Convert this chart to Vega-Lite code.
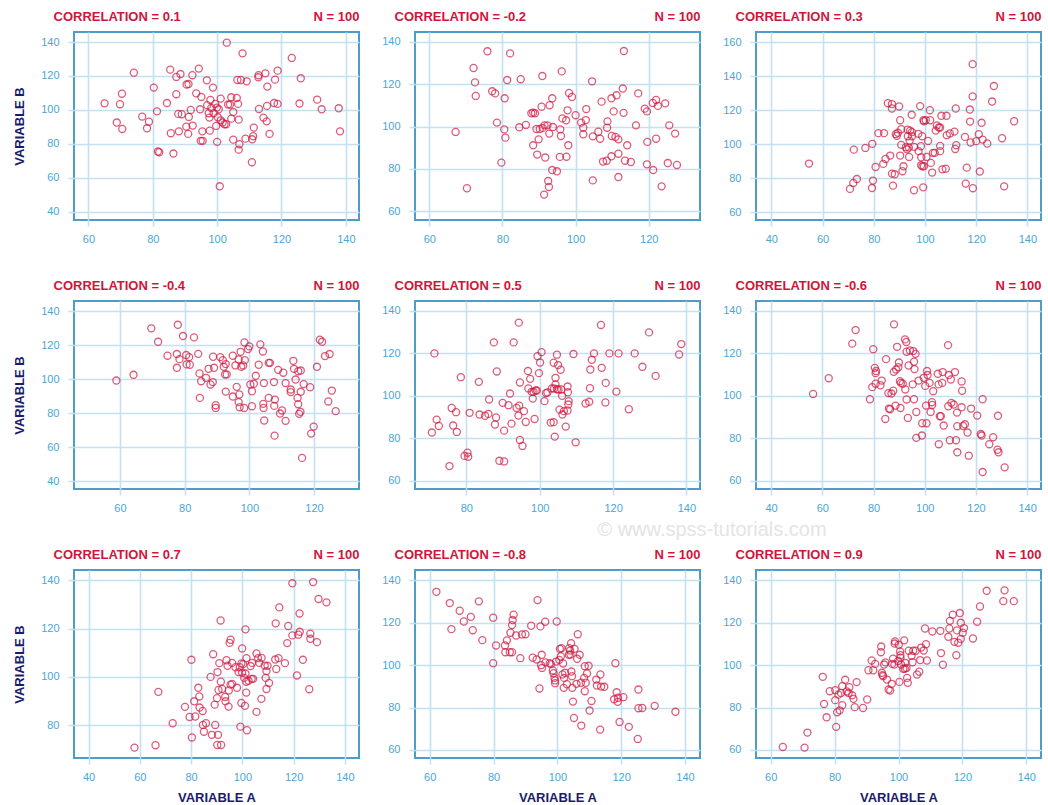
{
  "$schema": "https://vega.github.io/schema/vega-lite/v6.json",
  "padding": {"left": 12, "top": 9, "right": 5, "bottom": 5},
  "background": "white",
  "bounds": "flush",
  "columns": 3,
  "spacing": {"row": 81, "column": 56},
  "config": {
    "font": "Liberation Sans",
    "view": {"stroke": "#4d9dca", "strokeWidth": 2},
    "axis": {
      "grid": true, "gridColor": "#c2e1f2", "gridWidth": 1.6,
      "ticks": true, "tickColor": "#c2e1f2", "tickWidth": 1.6, "tickSize": 6,
      "domain": false, "labelFlush": false,
      "labelColor": "#4ba6d6", "labelFontSize": 11, "labelFont": "Liberation Sans",
      "titleFont": "Liberation Sans", "titleFontSize": 13, "titleFontWeight": "bold", "titleColor": "#1b1b6b"
    },
    "axisX": {"labelPadding": 7},
    "axisY": {"labelPadding": 9},
    "point": {"filled": false, "color": "#d0173f", "strokeWidth": 1.3, "size": 50}
  },
  "datasets": {
    "p1": [
      {"a":65.0,"b":103.8},{"a":69.8,"b":103.3},{"a":70.4,"b":109.5},{"a":68.8,"b":92.5},{"a":70.5,"b":88.7},{"a":74.1,"b":121.9},{"a":76.7,"b":96.0},{"a":78.8,"b":93.0},{"a":78.2,"b":89.1},{"a":80.3,"b":113.1},
      {"a":81.3,"b":99.1},{"a":81.6,"b":75.4},{"a":82.0,"b":75.0},{"a":84.4,"b":104.0},{"a":85.4,"b":123.7},{"a":85.6,"b":86.2},{"a":86.4,"b":74.2},{"a":87.3,"b":119.4},{"a":87.3,"b":109.2},{"a":87.9,"b":97.6},
      {"a":88.1,"b":87.3},{"a":88.6,"b":121.1},{"a":89.0,"b":97.4},{"a":90.5,"b":114.9},{"a":91.1,"b":115.2},{"a":90.4,"b":90.1},{"a":91.2,"b":95.8},{"a":91.0,"b":85.8},{"a":91.8,"b":99.9},{"a":92.3,"b":120.4},
      {"a":92.4,"b":90.7},{"a":93.5,"b":109.7},{"a":94.3,"b":124.3},{"a":94.7,"b":100.3},{"a":95.1,"b":107.6},{"a":94.9,"b":81.7},{"a":95.4,"b":87.3},{"a":95.5,"b":81.7},{"a":96.8,"b":117.4},{"a":96.9,"b":102.7},
      {"a":97.4,"b":98.0},{"a":97.6,"b":95.4},{"a":97.9,"b":105.8},{"a":97.7,"b":87.7},{"a":98.2,"b":101.1},{"a":98.7,"b":113.1},{"a":98.9,"b":98.0},{"a":99.4,"b":103.5},{"a":99.7,"b":90.5},{"a":100.0,"b":81.1},
      {"a":99.9,"b":101.3},{"a":100.2,"b":95.6},{"a":100.5,"b":100.3},{"a":100.8,"b":54.9},{"a":101.1,"b":106.6},{"a":101.1,"b":93.8},{"a":101.7,"b":92.5},{"a":102.3,"b":91.5},{"a":102.8,"b":91.5},{"a":103.0,"b":139.6},
      {"a":103.4,"b":103.1},{"a":104.0,"b":103.1},{"a":104.4,"b":107.4},{"a":104.4,"b":94.8},{"a":105.0,"b":98.7},{"a":105.0,"b":82.4},{"a":106.1,"b":107.0},{"a":106.5,"b":103.5},{"a":106.3,"b":117.6},{"a":107.4,"b":117.6},
      {"a":106.7,"b":94.2},{"a":106.7,"b":76.5},{"a":106.9,"b":79.7},{"a":107.9,"b":133.3},{"a":109.2,"b":116.8},{"a":108.8,"b":83.0},{"a":110.9,"b":82.6},{"a":111.4,"b":89.5},{"a":111.2,"b":84.4},{"a":110.8,"b":69.1},
      {"a":112.8,"b":119.2},{"a":112.9,"b":120.4},{"a":113.0,"b":100.5},{"a":114.4,"b":95.4},{"a":115.0,"b":121.5},{"a":115.4,"b":93.2},{"a":115.5,"b":102.3},{"a":115.6,"b":113.7},{"a":116.3,"b":85.8},{"a":118.0,"b":117.8},
      {"a":117.7,"b":104.0},{"a":118.8,"b":103.5},{"a":118.8,"b":123.1},{"a":123.2,"b":130.6},{"a":126.0,"b":118.6},{"a":125.6,"b":103.7},{"a":131.1,"b":106.0},{"a":132.5,"b":100.3},{"a":137.8,"b":100.9},{"a":138.2,"b":87.3}
    ],
    "p2": [
      {"a":67.2,"b":97.5},{"a":70.3,"b":70.9},{"a":72.1,"b":127.7},{"a":72.5,"b":120.9},{"a":72.7,"b":114.5},{"a":75.9,"b":135.6},{"a":77.2,"b":116.7},{"a":78.0,"b":115.7},{"a":78.5,"b":101.9},{"a":79.7,"b":83.0},
      {"a":80.5,"b":98.7},{"a":80.6,"b":113.4},{"a":80.8,"b":94.8},{"a":81.3,"b":122.0},{"a":82.1,"b":134.6},{"a":84.6,"b":99.7},{"a":85.0,"b":122.4},{"a":86.4,"b":100.8},{"a":87.9,"b":106.3},{"a":88.4,"b":106.6},
      {"a":88.9,"b":106.3},{"a":88.4,"b":91.2},{"a":89.3,"b":98.9},{"a":89.5,"b":86.8},{"a":89.9,"b":94.0},{"a":90.2,"b":98.9},{"a":90.7,"b":109.4},{"a":90.9,"b":123.9},{"a":91.0,"b":99.4},{"a":91.4,"b":67.9},
      {"a":91.7,"b":85.4},{"a":91.5,"b":100.6},{"a":92.3,"b":100.6},{"a":92.5,"b":74.3},{"a":92.7,"b":71.5},{"a":92.8,"b":96.7},{"a":92.9,"b":110.1},{"a":93.6,"b":113.4},{"a":93.8,"b":99.8},{"a":93.6,"b":79.5},
      {"a":94.9,"b":78.9},{"a":95.7,"b":85.7},{"a":95.8,"b":98.7},{"a":96.0,"b":95.6},{"a":96.2,"b":126.1},{"a":96.4,"b":103.9},{"a":97.4,"b":103.0},{"a":97.5,"b":85.8},{"a":97.8,"b":107.7},{"a":98.0,"b":91.2},
      {"a":98.2,"b":115.9},{"a":99.0,"b":114.0},{"a":100.0,"b":105.4},{"a":101.5,"b":101.9},{"a":102.1,"b":99.5},{"a":102.1,"b":96.4},{"a":102.8,"b":103.1},{"a":102.9,"b":108.3},{"a":104.5,"b":121.4},{"a":104.7,"b":74.6},
      {"a":104.7,"b":95.4},{"a":106.2,"b":97.6},{"a":106.7,"b":94.3},{"a":107.1,"b":111.8},{"a":107.5,"b":83.5},{"a":108.5,"b":83.9},{"a":108.6,"b":99.5},{"a":108.7,"b":102.5},{"a":109.8,"b":113.4},{"a":109.9,"b":95.6},
      {"a":109.8,"b":86.0},{"a":110.4,"b":107.2},{"a":110.9,"b":95.1},{"a":111.2,"b":114.8},{"a":111.7,"b":94.0},{"a":111.7,"b":76.2},{"a":111.7,"b":87.2},{"a":112.9,"b":118.0},{"a":113.1,"b":106.5},{"a":113.2,"b":135.7},
      {"a":113.5,"b":83.9},{"a":114.1,"b":91.2},{"a":115.1,"b":83.3},{"a":116.5,"b":100.6},{"a":117.1,"b":115.7},{"a":118.9,"b":108.5},{"a":119.5,"b":107.2},{"a":119.6,"b":92.8},{"a":119.5,"b":82.2},{"a":121.1,"b":111.2},
      {"a":122.0,"b":112.6},{"a":122.5,"b":109.8},{"a":122.0,"b":94.3},{"a":121.2,"b":79.5},{"a":123.5,"b":71.8},{"a":124.5,"b":111.0},{"a":125.2,"b":82.8},{"a":125.6,"b":100.6},{"a":127.2,"b":96.7},{"a":127.7,"b":81.9}
    ],
    "p3": [
      {"a":54.7,"b":88.5},{"a":70.7,"b":73.6},{"a":72.0,"b":77.1},{"a":73.4,"b":79.4},{"a":72.2,"b":96.7},{"a":76.7,"b":97.7},{"a":79.4,"b":100.1},{"a":79.3,"b":74.1},{"a":79.7,"b":78.5},{"a":80.7,"b":86.5},
      {"a":81.8,"b":106.4},{"a":84.0,"b":106.4},{"a":83.7,"b":88.3},{"a":84.6,"b":91.2},{"a":86.4,"b":93.2},{"a":85.5,"b":124.0},{"a":87.1,"b":123.5},{"a":87.1,"b":120.9},{"a":87.1,"b":82.6},{"a":88.2,"b":82.2},
      {"a":87.5,"b":75.5},{"a":88.6,"b":105.8},{"a":89.0,"b":104.8},{"a":89.4,"b":106.6},{"a":89.9,"b":122.1},{"a":90.3,"b":114.0},{"a":90.7,"b":108.7},{"a":90.7,"b":99.5},{"a":90.3,"b":93.2},{"a":91.2,"b":84.0},
      {"a":91.6,"b":86.9},{"a":92.5,"b":98.1},{"a":92.9,"b":96.9},{"a":93.2,"b":108.5},{"a":93.3,"b":104.6},{"a":94.0,"b":102.0},{"a":93.7,"b":97.9},{"a":93.8,"b":92.4},{"a":94.2,"b":107.9},{"a":94.9,"b":107.0},
      {"a":94.8,"b":117.2},{"a":94.9,"b":104.6},{"a":95.7,"b":72.8},{"a":95.8,"b":98.3},{"a":97.4,"b":106.0},{"a":97.5,"b":95.8},{"a":98.1,"b":122.3},{"a":98.4,"b":98.7},{"a":98.5,"b":92.2},{"a":98.9,"b":104.6},
      {"a":98.5,"b":87.5},{"a":99.0,"b":86.9},{"a":99.4,"b":114.0},{"a":99.6,"b":113.4},{"a":99.6,"b":86.9},{"a":99.3,"b":74.5},{"a":100.3,"b":114.0},{"a":100.6,"b":92.4},{"a":101.2,"b":101.8},{"a":101.9,"b":119.9},
      {"a":102.0,"b":114.0},{"a":102.3,"b":88.9},{"a":102.8,"b":83.2},{"a":103.1,"b":94.8},{"a":103.8,"b":94.8},{"a":104.2,"b":107.9},{"a":104.6,"b":110.9},{"a":105.4,"b":109.7},{"a":105.9,"b":109.7},{"a":105.9,"b":98.9},
      {"a":105.9,"b":95.8},{"a":106.4,"b":116.6},{"a":106.8,"b":85.1},{"a":108.4,"b":116.6},{"a":108.1,"b":85.5},{"a":108.5,"b":105.2},{"a":109.7,"b":106.2},{"a":111.5,"b":107.3},{"a":112.0,"b":120.9},{"a":112.2,"b":99.3},
      {"a":111.8,"b":97.1},{"a":115.6,"b":104.2},{"a":116.3,"b":86.1},{"a":115.9,"b":76.7},{"a":117.5,"b":120.3},{"a":117.6,"b":113.2},{"a":117.8,"b":100.9},{"a":118.6,"b":147.0},{"a":118.6,"b":128.0},{"a":118.7,"b":74.0},
      {"a":120.0,"b":101.7},{"a":121.0,"b":105.8},{"a":121.4,"b":83.8},{"a":122.1,"b":112.5},{"a":122.5,"b":102.6},{"a":124.3,"b":100.3},{"a":126.2,"b":125.0},{"a":126.9,"b":134.1},{"a":130.1,"b":103.4},{"a":130.9,"b":75.1},
      {"a":134.8,"b":113.4}
    ],
    "p4": [
      {"a":58.9,"b":99.3},{"a":64.2,"b":102.7},{"a":69.7,"b":130.0},{"a":71.8,"b":122.1},{"a":74.7,"b":113.9},{"a":77.6,"b":114.9},{"a":77.6,"b":106.8},{"a":77.9,"b":132.1},{"a":78.4,"b":111.9},{"a":79.5,"b":125.5},
      {"a":80.5,"b":114.3},{"a":80.6,"b":108.8},{"a":81.4,"b":113.1},{"a":81.6,"b":108.6},{"a":82.9,"b":124.7},{"a":84.2,"b":115.0},{"a":84.6,"b":103.5},{"a":85.1,"b":98.9},{"a":84.7,"b":89.1},{"a":86.6,"b":100.9},
      {"a":87.4,"b":106.2},{"a":88.0,"b":97.0},{"a":88.7,"b":98.4},{"a":88.8,"b":113.3},{"a":89.1,"b":106.8},{"a":89.6,"b":84.8},{"a":89.6,"b":83.2},{"a":91.0,"b":113.1},{"a":91.8,"b":111.3},{"a":92.1,"b":107.4},
      {"a":92.7,"b":109.0},{"a":92.5,"b":102.9},{"a":93.0,"b":102.9},{"a":92.7,"b":92.8},{"a":94.9,"b":113.9},{"a":94.9,"b":89.9},{"a":95.7,"b":108.2},{"a":96.1,"b":95.6},{"a":96.7,"b":111.7},{"a":96.9,"b":91.1},
      {"a":96.7,"b":86.6},{"a":97.0,"b":83.6},{"a":97.3,"b":116.2},{"a":97.5,"b":107.4},{"a":98.1,"b":108.2},{"a":98.6,"b":111.3},{"a":98.5,"b":121.7},{"a":98.4,"b":83.2},{"a":99.6,"b":117.8},{"a":100.0,"b":119.4},
      {"a":100.3,"b":97.0},{"a":100.8,"b":93.0},{"a":100.8,"b":84.2},{"a":101.4,"b":97.4},{"a":102.0,"b":102.1},{"a":102.9,"b":108.6},{"a":103.4,"b":120.6},{"a":104.2,"b":116.4},{"a":104.5,"b":97.8},{"a":104.3,"b":85.6},
      {"a":104.4,"b":83.2},{"a":104.6,"b":75.8},{"a":106.0,"b":89.1},{"a":106.0,"b":109.7},{"a":106.4,"b":109.7},{"a":107.6,"b":98.4},{"a":107.9,"b":88.1},{"a":107.7,"b":84.4},{"a":107.8,"b":66.9},{"a":108.9,"b":105.6},
      {"a":109.5,"b":79.9},{"a":110.1,"b":81.7},{"a":110.5,"b":103.9},{"a":111.2,"b":97.8},{"a":111.2,"b":75.6},{"a":112.8,"b":94.0},{"a":112.8,"b":92.5},{"a":113.6,"b":110.9},{"a":113.8,"b":106.2},{"a":114.3,"b":99.9},
      {"a":114.9,"b":89.1},{"a":115.1,"b":85.4},{"a":115.1,"b":104.8},{"a":115.9,"b":105.2},{"a":115.4,"b":79.7},{"a":115.8,"b":80.9},{"a":115.9,"b":92.7},{"a":116.3,"b":53.8},{"a":116.8,"b":97.2},{"a":118.8,"b":95.4},
      {"a":119.1,"b":68.1},{"a":119.9,"b":72.2},{"a":120.9,"b":107.4},{"a":121.8,"b":123.3},{"a":122.5,"b":122.1},{"a":123.4,"b":113.7},{"a":124.8,"b":114.9},{"a":124.4,"b":87.0},{"a":125.5,"b":93.4},{"a":126.7,"b":81.3}
    ],
    "p5": [
      {"a":70.6,"b":82.7},{"a":71.3,"b":120.0},{"a":71.9,"b":88.8},{"a":72.5,"b":85.8},{"a":75.4,"b":66.9},{"a":76.0,"b":94.3},{"a":76.4,"b":86.0},{"a":77.2,"b":92.3},{"a":77.4,"b":83.0},{"a":78.5,"b":108.8},
      {"a":79.5,"b":71.7},{"a":80.3,"b":73.2},{"a":80.5,"b":71.3},{"a":80.9,"b":92.0},{"a":83.4,"b":106.6},{"a":83.6,"b":91.2},{"a":85.1,"b":90.6},{"a":86.0,"b":91.5},{"a":86.2,"b":98.3},{"a":87.5,"b":125.2},
      {"a":87.8,"b":86.5},{"a":88.1,"b":89.8},{"a":88.3,"b":111.5},{"a":89.0,"b":69.4},{"a":90.3,"b":69.1},{"a":89.9,"b":96.7},{"a":90.3,"b":83.6},{"a":91.5,"b":95.6},{"a":91.9,"b":101.1},{"a":92.3,"b":86.9},
      {"a":92.9,"b":125.2},{"a":93.7,"b":94.3},{"a":94.2,"b":90.7},{"a":94.3,"b":134.5},{"a":94.4,"b":95.4},{"a":94.6,"b":106.3},{"a":94.6,"b":79.2},{"a":95.3,"b":76.4},{"a":95.7,"b":92.8},{"a":96.2,"b":87.7},
      {"a":96.8,"b":111.7},{"a":96.9,"b":103.5},{"a":97.4,"b":108.0},{"a":97.8,"b":101.9},{"a":98.1,"b":98.7},{"a":98.3,"b":101.9},{"a":98.6,"b":89.1},{"a":98.9,"b":102.5},{"a":99.2,"b":102.5},{"a":99.4,"b":118.7},
      {"a":99.8,"b":110.7},{"a":100.1,"b":115.7},{"a":100.5,"b":120.6},{"a":101.3,"b":97.5},{"a":101.7,"b":101.3},{"a":102.1,"b":101.6},{"a":103.0,"b":87.4},{"a":103.3,"b":103.5},{"a":103.9,"b":103.5},{"a":103.8,"b":87.6},
      {"a":104.1,"b":80.8},{"a":103.8,"b":115.6},{"a":104.3,"b":105.4},{"a":104.3,"b":108.5},{"a":104.7,"b":119.4},{"a":105.0,"b":114.5},{"a":104.7,"b":103.1},{"a":105.1,"b":103.0},{"a":105.4,"b":93.5},{"a":105.7,"b":112.3},
      {"a":105.9,"b":103.0},{"a":106.1,"b":100.0},{"a":106.2,"b":91.2},{"a":106.6,"b":92.8},{"a":107.1,"b":85.5},{"a":107.6,"b":93.1},{"a":107.6,"b":104.4},{"a":107.7,"b":101.7},{"a":107.9,"b":97.5},{"a":107.8,"b":95.9},
      {"a":109.2,"b":119.7},{"a":109.8,"b":78.1},{"a":112.5,"b":96.4},{"a":113.5,"b":97.2},{"a":113.7,"b":103.6},{"a":113.8,"b":112.4},{"a":114.2,"b":117.0},{"a":114.8,"b":120.0},{"a":116.7,"b":133.4},{"a":116.9,"b":113.2},
      {"a":117.9,"b":96.9},{"a":118.0,"b":106.1},{"a":119.0,"b":120.0},{"a":120.9,"b":102.0},{"a":121.5,"b":120.0},{"a":124.3,"b":93.7},{"a":125.9,"b":120.0},{"a":128.0,"b":113.7},{"a":129.8,"b":129.9},{"a":131.6,"b":109.4},
      {"a":138.0,"b":119.5},{"a":138.6,"b":124.4}
    ],
    "p6": [
      {"a":56.4,"b":100.9},{"a":62.5,"b":108.3},{"a":71.7,"b":124.6},{"a":73.0,"b":131.0},{"a":78.6,"b":98.4},{"a":79.5,"b":104.1},{"a":79.9,"b":122.0},{"a":80.5,"b":113.2},{"a":80.8,"b":110.7},{"a":81.0,"b":111.7},
      {"a":80.8,"b":105.7},{"a":82.7,"b":105.0},{"a":83.2,"b":107.2},{"a":84.6,"b":89.1},{"a":84.9,"b":117.3},{"a":85.8,"b":101.3},{"a":86.0,"b":94.0},{"a":86.5,"b":93.7},{"a":87.0,"b":101.1},{"a":87.7,"b":102.4},
      {"a":87.9,"b":111.3},{"a":88.0,"b":133.7},{"a":88.8,"b":112.4},{"a":88.6,"b":95.4},{"a":89.2,"b":123.1},{"a":89.7,"b":113.5},{"a":89.9,"b":115.7},{"a":90.3,"b":106.9},{"a":90.5,"b":94.3},{"a":90.7,"b":106.1},
      {"a":91.4,"b":105.7},{"a":92.4,"b":103.0},{"a":92.3,"b":126.6},{"a":92.8,"b":125.4},{"a":92.9,"b":98.3},{"a":92.9,"b":120.8},{"a":93.4,"b":89.6},{"a":93.7,"b":114.3},{"a":94.2,"b":121.4},{"a":95.3,"b":105.4},
      {"a":95.5,"b":121.1},{"a":95.8,"b":116.1},{"a":95.8,"b":98.4},{"a":96.0,"b":112.6},{"a":96.4,"b":119.8},{"a":96.7,"b":92.4},{"a":96.7,"b":80.2},{"a":97.6,"b":107.2},{"a":98.9,"b":81.3},{"a":99.0,"b":87.1},
      {"a":99.6,"b":108.5},{"a":100.2,"b":104.7},{"a":100.5,"b":95.4},{"a":100.7,"b":87.1},{"a":100.9,"b":111.7},{"a":101.1,"b":109.8},{"a":101.9,"b":106.1},{"a":102.3,"b":92.4},{"a":102.8,"b":97.0},{"a":102.9,"b":95.7},
      {"a":103.3,"b":102.2},{"a":105.1,"b":110.4},{"a":105.4,"b":105.4},{"a":105.5,"b":77.2},{"a":105.9,"b":90.4},{"a":106.3,"b":90.4},{"a":106.8,"b":106.1},{"a":107.0,"b":111.2},{"a":107.4,"b":86.0},{"a":109.1,"b":123.9},
      {"a":109.4,"b":109.8},{"a":109.2,"b":95.1},{"a":109.8,"b":79.1},{"a":110.2,"b":107.7},{"a":110.4,"b":96.7},{"a":111.3,"b":95.9},{"a":111.8,"b":111.2},{"a":112.2,"b":79.1},{"a":112.6,"b":92.1},{"a":112.7,"b":73.4},
      {"a":112.7,"b":85.7},{"a":114.4,"b":106.8},{"a":114.6,"b":102.4},{"a":114.4,"b":94.6},{"a":115.0,"b":85.8},{"a":115.7,"b":86.6},{"a":116.7,"b":82.7},{"a":117.2,"b":71.8},{"a":118.1,"b":94.0},{"a":120.5,"b":90.7},
      {"a":121.9,"b":82.0},{"a":122.2,"b":81.3},{"a":122.6,"b":98.4},{"a":122.6,"b":64.1},{"a":125.2,"b":77.2},{"a":126.7,"b":80.5},{"a":128.4,"b":74.6},{"a":128.8,"b":73.4},{"a":128.6,"b":90.6},{"a":131.2,"b":66.3}
    ],
    "p7": [
      {"a":57.9,"b":70.7},{"a":66.1,"b":71.7},{"a":67.2,"b":93.8},{"a":72.8,"b":80.8},{"a":77.6,"b":87.6},{"a":79.4,"b":83.4},{"a":80.1,"b":107.1},{"a":80.3,"b":74.9},{"a":81.2,"b":89.9},{"a":81.6,"b":83.6},
      {"a":82.8,"b":95.5},{"a":83.2,"b":91.9},{"a":83.3,"b":87.3},{"a":84.5,"b":85.9},{"a":84.6,"b":80.1},{"a":85.0,"b":77.3},{"a":85.8,"b":80.8},{"a":88.1,"b":76.0},{"a":87.6,"b":100.0},{"a":88.6,"b":109.4},
      {"a":89.2,"b":88.5},{"a":89.4,"b":80.1},{"a":90.1,"b":91.2},{"a":90.3,"b":102.0},{"a":90.5,"b":76.0},{"a":90.2,"b":71.8},{"a":90.7,"b":94.6},{"a":91.0,"b":105.7},{"a":91.5,"b":123.4},{"a":91.6,"b":98.0},
      {"a":91.7,"b":71.8},{"a":92.1,"b":95.0},{"a":93.3,"b":91.7},{"a":93.4,"b":89.9},{"a":93.8,"b":106.9},{"a":94.2,"b":104.6},{"a":94.6,"b":87.7},{"a":94.7,"b":94.4},{"a":95.0,"b":114.1},{"a":95.4,"b":115.4},
      {"a":95.4,"b":96.8},{"a":96.0,"b":97.1},{"a":96.0,"b":105.8},{"a":97.3,"b":104.0},{"a":97.9,"b":95.5},{"a":98.5,"b":102.0},{"a":99.0,"b":104.0},{"a":99.2,"b":79.4},{"a":99.6,"b":105.6},{"a":99.6,"b":89.2},
      {"a":99.9,"b":111.8},{"a":99.9,"b":101.7},{"a":100.3,"b":105.3},{"a":100.7,"b":99.6},{"a":101.0,"b":88.0},{"a":101.2,"b":119.7},{"a":101.2,"b":101.4},{"a":101.5,"b":98.0},{"a":101.5,"b":93.5},{"a":101.8,"b":77.9},
      {"a":101.6,"b":107.8},{"a":102.4,"b":98.4},{"a":103.2,"b":104.5},{"a":103.6,"b":99.2},{"a":103.8,"b":105.8},{"a":104.2,"b":99.2},{"a":105.5,"b":85.5},{"a":105.5,"b":109.7},{"a":106.1,"b":107.8},{"a":106.6,"b":105.8},
      {"a":107.5,"b":107.9},{"a":107.4,"b":90.9},{"a":108.7,"b":104.7},{"a":109.1,"b":99.6},{"a":109.4,"b":95.0},{"a":109.4,"b":102.4},{"a":109.8,"b":104.6},{"a":110.4,"b":97.5},{"a":112.8,"b":107.2},{"a":113.0,"b":122.2},
      {"a":113.2,"b":103.3},{"a":114.1,"b":107.8},{"a":114.4,"b":128.8},{"a":116.6,"b":105.7},{"a":117.5,"b":114.0},{"a":117.9,"b":121.1},{"a":119.5,"b":138.8},{"a":119.5,"b":117.2},{"a":121.3,"b":100.6},{"a":121.8,"b":117.5},
      {"a":122.4,"b":118.7},{"a":122.3,"b":126.3},{"a":123.6,"b":107.1},{"a":126.1,"b":94.9},{"a":126.5,"b":117.9},{"a":126.5,"b":115.8},{"a":127.6,"b":139.3},{"a":129.1,"b":114.4},{"a":129.7,"b":132.3},{"a":132.8,"b":130.9}
    ],
    "p8": [
      {"a":62.1,"b":134.6},{"a":66.3,"b":129.3},{"a":66.8,"b":117.0},{"a":69.4,"b":125.7},{"a":70.7,"b":120.6},{"a":72.9,"b":122.8},{"a":73.5,"b":116.5},{"a":75.4,"b":130.1},{"a":76.5,"b":111.8},{"a":79.9,"b":122.4},
      {"a":79.9,"b":100.9},{"a":80.8,"b":109.3},{"a":83.6,"b":109.3},{"a":83.7,"b":106.1},{"a":84.2,"b":111.7},{"a":85.1,"b":106.1},{"a":85.3,"b":115.3},{"a":85.8,"b":106.1},{"a":85.8,"b":118.9},{"a":86.0,"b":121.3},
      {"a":86.3,"b":123.8},{"a":87.1,"b":114.0},{"a":88.4,"b":103.3},{"a":88.9,"b":114.5},{"a":90.0,"b":114.6},{"a":91.8,"b":118.6},{"a":92.3,"b":103.5},{"a":93.5,"b":102.7},{"a":93.8,"b":130.7},{"a":94.4,"b":89.0},
      {"a":94.7,"b":118.3},{"a":94.9,"b":100.0},{"a":95.1,"b":104.9},{"a":95.2,"b":98.7},{"a":96.2,"b":120.5},{"a":96.3,"b":101.3},{"a":97.6,"b":100.9},{"a":98.0,"b":100.5},{"a":98.6,"b":97.5},{"a":98.8,"b":96.2},
      {"a":99.1,"b":94.0},{"a":99.3,"b":92.8},{"a":99.3,"b":91.5},{"a":99.6,"b":101.7},{"a":99.8,"b":120.6},{"a":100.6,"b":102.5},{"a":100.8,"b":107.7},{"a":101.1,"b":104.1},{"a":101.3,"b":108.0},{"a":101.6,"b":95.6},
      {"a":101.8,"b":100.8},{"a":102.1,"b":94.0},{"a":102.0,"b":89.3},{"a":102.4,"b":96.4},{"a":103.0,"b":91.0},{"a":103.6,"b":104.9},{"a":103.7,"b":108.0},{"a":104.0,"b":106.9},{"a":104.1,"b":105.0},{"a":104.3,"b":110.4},
      {"a":104.4,"b":97.0},{"a":104.6,"b":94.8},{"a":104.7,"b":89.3},{"a":104.9,"b":82.8},{"a":105.2,"b":75.1},{"a":105.4,"b":107.7},{"a":106.0,"b":91.2},{"a":106.2,"b":103.0},{"a":106.4,"b":114.6},{"a":107.0,"b":104.9},
      {"a":107.4,"b":91.7},{"a":107.5,"b":71.5},{"a":108.4,"b":94.0},{"a":108.6,"b":87.7},{"a":108.6,"b":99.5},{"a":108.9,"b":91.7},{"a":109.3,"b":96.1},{"a":109.8,"b":99.7},{"a":110.1,"b":78.6},{"a":110.7,"b":83.1},
      {"a":112.2,"b":93.2},{"a":112.4,"b":90.4},{"a":113.4,"b":69.6},{"a":113.5,"b":95.6},{"a":113.7,"b":89.9},{"a":114.7,"b":89.8},{"a":117.8,"b":83.9},{"a":118.2,"b":100.9},{"a":118.6,"b":87.2},{"a":118.9,"b":82.7},
      {"a":119.0,"b":84.6},{"a":119.5,"b":73.2},{"a":120.7,"b":84.9},{"a":122.4,"b":70.9},{"a":125.4,"b":88.5},{"a":125.4,"b":79.7},{"a":125.2,"b":65.2},{"a":126.6,"b":79.8},{"a":130.5,"b":80.8},{"a":137.0,"b":78.0}
    ],
    "p9": [
      {"a":63.8,"b":61.4},{"a":70.6,"b":61.1},{"a":71.5,"b":68.2},{"a":76.3,"b":94.5},{"a":76.7,"b":81.7},{"a":77.5,"b":75.4},{"a":78.5,"b":87.7},{"a":80.2,"b":88.2},{"a":80.2,"b":83.5},{"a":80.5,"b":70.9},
      {"a":80.8,"b":77.8},{"a":81.2,"b":86.1},{"a":81.6,"b":78.7},{"a":82.0,"b":86.9},{"a":82.4,"b":81.1},{"a":82.4,"b":90.1},{"a":83.3,"b":93.1},{"a":83.8,"b":87.6},{"a":84.4,"b":86.9},{"a":84.6,"b":89.6},
      {"a":85.5,"b":85.8},{"a":85.9,"b":84.1},{"a":86.3,"b":80.2},{"a":86.9,"b":92.0},{"a":88.9,"b":79.8},{"a":90.2,"b":83.8},{"a":90.6,"b":97.6},{"a":91.6,"b":102.2},{"a":92.1,"b":97.6},{"a":92.7,"b":100.6},
      {"a":94.6,"b":108.8},{"a":94.5,"b":106.1},{"a":94.8,"b":96.4},{"a":95.0,"b":95.3},{"a":95.2,"b":94.8},{"a":95.5,"b":100.3},{"a":95.9,"b":101.3},{"a":96.4,"b":93.2},{"a":96.9,"b":88.5},{"a":97.4,"b":88.0},
      {"a":97.9,"b":91.2},{"a":98.0,"b":100.6},{"a":98.3,"b":103.1},{"a":98.7,"b":100.3},{"a":98.8,"b":110.2},{"a":98.9,"b":111.2},{"a":99.9,"b":102.0},{"a":100.1,"b":109.6},{"a":100.3,"b":92.1},{"a":100.5,"b":106.5},
      {"a":100.6,"b":104.7},{"a":100.6,"b":103.5},{"a":100.8,"b":100.3},{"a":101.5,"b":98.3},{"a":101.8,"b":111.7},{"a":102.0,"b":98.3},{"a":102.1,"b":101.1},{"a":102.5,"b":98.7},{"a":102.7,"b":94.0},{"a":102.9,"b":91.7},
      {"a":103.2,"b":106.8},{"a":104.1,"b":104.4},{"a":104.4,"b":101.4},{"a":104.6,"b":106.8},{"a":105.4,"b":106.8},{"a":105.8,"b":95.6},{"a":106.5,"b":96.9},{"a":106.8,"b":102.4},{"a":107.1,"b":108.3},{"a":107.9,"b":106.9},
      {"a":108.3,"b":117.3},{"a":108.6,"b":109.9},{"a":108.9,"b":102.2},{"a":110.6,"b":115.9},{"a":113.1,"b":116.2},{"a":113.3,"b":105.7},{"a":113.9,"b":100.2},{"a":115.6,"b":113.4},{"a":115.9,"b":117.3},{"a":116.1,"b":120.9},
      {"a":117.0,"b":123.8},{"a":117.5,"b":111.0},{"a":118.1,"b":104.7},{"a":118.3,"b":116.4},{"a":118.7,"b":110.6},{"a":119.2,"b":124.6},{"a":119.5,"b":120.0},{"a":119.5,"b":112.4},{"a":120.1,"b":115.3},{"a":120.5,"b":117.5},
      {"a":123.3,"b":112.6},{"a":124.6,"b":120.5},{"a":125.5,"b":127.7},{"a":127.6,"b":135.1},{"a":132.8,"b":130.2},{"a":133.2,"b":135.3},{"a":136.1,"b":130.2}
    ],
    "watermark": [
      {"note": "© www.spss-tutorials.com", "a": 146.97, "b": 36.9}
    ]
  },
  "concat": [
    {
      "width": 285, "height": 188, "data": {"name": "p1"},
      "layer": [
        {"mark": {"type": "point"}, "encoding": {
          "x": {"field": "a", "type": "quantitative", "scale": {"domain": [55.5, 144.1], "nice": false, "zero": false}, "axis": {"values": [60, 80, 100, 120, 140], "title": null}},
          "y": {"field": "b", "type": "quantitative", "scale": {"domain": [35.0, 145.9], "nice": false, "zero": false}, "axis": {"values": [40, 60, 80, 100, 120, 140], "title": "VARIABLE B", "titlePadding": 14}}}},
        {"mark": {"type": "point", "opacity": 0}, "encoding": {
          "x": {"field": "a", "type": "quantitative", "axis": {"orient": "top", "title": "CORRELATION = 0.1", "titleX": -21, "titleAlign": "left", "titleY": -12, "titleBaseline": "alphabetic", "titleColor": "#d2143a", "labels": false, "ticks": false, "grid": false, "domain": false}},
          "y": {"field": "b", "type": "quantitative", "axis": null}}},
        {"mark": {"type": "point", "opacity": 0}, "encoding": {
          "x": {"field": "a", "type": "quantitative", "axis": {"orient": "top", "title": "N = 100", "titleAnchor": "end", "titleY": -12, "titleBaseline": "alphabetic", "titleColor": "#d2143a", "labels": false, "ticks": false, "grid": false, "domain": false}},
          "y": {"field": "b", "type": "quantitative", "axis": null}}}
      ],
      "resolve": {"axis": {"x": "independent", "y": "independent"}}
    },
    {
      "width": 285, "height": 188, "data": {"name": "p2"},
      "layer": [
        {"mark": {"type": "point"}, "encoding": {
          "x": {"field": "a", "type": "quantitative", "scale": {"domain": [56.1, 134.0], "nice": false, "zero": false}, "axis": {"values": [60, 80, 100, 120], "title": null}},
          "y": {"field": "b", "type": "quantitative", "scale": {"domain": [55.9, 144.7], "nice": false, "zero": false}, "axis": {"values": [60, 80, 100, 120, 140], "title": null}}}},
        {"mark": {"type": "point", "opacity": 0}, "encoding": {
          "x": {"field": "a", "type": "quantitative", "axis": {"orient": "top", "title": "CORRELATION = -0.2", "titleX": -21, "titleAlign": "left", "titleY": -12, "titleBaseline": "alphabetic", "titleColor": "#d2143a", "labels": false, "ticks": false, "grid": false, "domain": false}},
          "y": {"field": "b", "type": "quantitative", "axis": null}}},
        {"mark": {"type": "point", "opacity": 0}, "encoding": {
          "x": {"field": "a", "type": "quantitative", "axis": {"orient": "top", "title": "N = 100", "titleAnchor": "end", "titleY": -12, "titleBaseline": "alphabetic", "titleColor": "#d2143a", "labels": false, "ticks": false, "grid": false, "domain": false}},
          "y": {"field": "b", "type": "quantitative", "axis": null}}}
      ],
      "resolve": {"axis": {"x": "independent", "y": "independent"}}
    },
    {
      "width": 285, "height": 188, "data": {"name": "p3"},
      "layer": [
        {"mark": {"type": "point"}, "encoding": {
          "x": {"field": "a", "type": "quantitative", "scale": {"domain": [34.0, 145.3], "nice": false, "zero": false}, "axis": {"values": [40, 60, 80, 100, 120, 140], "title": null}},
          "y": {"field": "b", "type": "quantitative", "scale": {"domain": [55.3, 165.9], "nice": false, "zero": false}, "axis": {"values": [60, 80, 100, 120, 140, 160], "title": null}}}},
        {"mark": {"type": "point", "opacity": 0}, "encoding": {
          "x": {"field": "a", "type": "quantitative", "axis": {"orient": "top", "title": "CORRELATION = 0.3", "titleX": -21, "titleAlign": "left", "titleY": -12, "titleBaseline": "alphabetic", "titleColor": "#d2143a", "labels": false, "ticks": false, "grid": false, "domain": false}},
          "y": {"field": "b", "type": "quantitative", "axis": null}}},
        {"mark": {"type": "point", "opacity": 0}, "encoding": {
          "x": {"field": "a", "type": "quantitative", "axis": {"orient": "top", "title": "N = 100", "titleAnchor": "end", "titleY": -12, "titleBaseline": "alphabetic", "titleColor": "#d2143a", "labels": false, "ticks": false, "grid": false, "domain": false}},
          "y": {"field": "b", "type": "quantitative", "axis": null}}}
      ],
      "resolve": {"axis": {"x": "independent", "y": "independent"}}
    },
    {
      "width": 285, "height": 188, "data": {"name": "p4"},
      "layer": [
        {"mark": {"type": "point"}, "encoding": {
          "x": {"field": "a", "type": "quantitative", "scale": {"domain": [45.8, 133.9], "nice": false, "zero": false}, "axis": {"values": [60, 80, 100, 120], "title": null}},
          "y": {"field": "b", "type": "quantitative", "scale": {"domain": [35.5, 146.1], "nice": false, "zero": false}, "axis": {"values": [40, 60, 80, 100, 120, 140], "title": "VARIABLE B", "titlePadding": 14}}}},
        {"mark": {"type": "point", "opacity": 0}, "encoding": {
          "x": {"field": "a", "type": "quantitative", "axis": {"orient": "top", "title": "CORRELATION = -0.4", "titleX": -21, "titleAlign": "left", "titleY": -12, "titleBaseline": "alphabetic", "titleColor": "#d2143a", "labels": false, "ticks": false, "grid": false, "domain": false}},
          "y": {"field": "b", "type": "quantitative", "axis": null}}},
        {"mark": {"type": "point", "opacity": 0}, "encoding": {
          "x": {"field": "a", "type": "quantitative", "axis": {"orient": "top", "title": "N = 100", "titleAnchor": "end", "titleY": -12, "titleBaseline": "alphabetic", "titleColor": "#d2143a", "labels": false, "ticks": false, "grid": false, "domain": false}},
          "y": {"field": "b", "type": "quantitative", "axis": null}}}
      ],
      "resolve": {"axis": {"x": "independent", "y": "independent"}}
    },
    {
      "width": 285, "height": 188, "data": {"name": "p5"},
      "layer": [
        {"mark": {"type": "point"}, "encoding": {
          "x": {"field": "a", "type": "quantitative", "scale": {"domain": [66.0, 143.7], "nice": false, "zero": false}, "axis": {"values": [80, 100, 120, 140], "title": null}},
          "y": {"field": "b", "type": "quantitative", "scale": {"domain": [56.1, 144.7], "nice": false, "zero": false}, "axis": {"values": [60, 80, 100, 120, 140], "title": null}}}},
        {"mark": {"type": "point", "opacity": 0}, "encoding": {
          "x": {"field": "a", "type": "quantitative", "axis": {"orient": "top", "title": "CORRELATION = 0.5", "titleX": -21, "titleAlign": "left", "titleY": -12, "titleBaseline": "alphabetic", "titleColor": "#d2143a", "labels": false, "ticks": false, "grid": false, "domain": false}},
          "y": {"field": "b", "type": "quantitative", "axis": null}}},
        {"mark": {"type": "point", "opacity": 0}, "encoding": {
          "x": {"field": "a", "type": "quantitative", "axis": {"orient": "top", "title": "N = 100", "titleAnchor": "end", "titleY": -12, "titleBaseline": "alphabetic", "titleColor": "#d2143a", "labels": false, "ticks": false, "grid": false, "domain": false}},
          "y": {"field": "b", "type": "quantitative", "axis": null}}},
        {"data": {"name": "watermark"}, "mark": {"type": "text", "fontSize": 20, "color": "#e4e4e4", "baseline": "middle", "align": "center"}, "encoding": {
          "x": {"field": "a", "type": "quantitative", "axis": null},
          "y": {"field": "b", "type": "quantitative", "axis": null},
          "text": {"field": "note"}}}
      ],
      "resolve": {"axis": {"x": "independent", "y": "independent"}}
    },
    {
      "width": 285, "height": 188, "data": {"name": "p6"},
      "layer": [
        {"mark": {"type": "point"}, "encoding": {
          "x": {"field": "a", "type": "quantitative", "scale": {"domain": [34.1, 145.4], "nice": false, "zero": false}, "axis": {"values": [40, 60, 80, 100, 120, 140], "title": null}},
          "y": {"field": "b", "type": "quantitative", "scale": {"domain": [56.1, 144.7], "nice": false, "zero": false}, "axis": {"values": [60, 80, 100, 120, 140], "title": null}}}},
        {"mark": {"type": "point", "opacity": 0}, "encoding": {
          "x": {"field": "a", "type": "quantitative", "axis": {"orient": "top", "title": "CORRELATION = -0.6", "titleX": -21, "titleAlign": "left", "titleY": -12, "titleBaseline": "alphabetic", "titleColor": "#d2143a", "labels": false, "ticks": false, "grid": false, "domain": false}},
          "y": {"field": "b", "type": "quantitative", "axis": null}}},
        {"mark": {"type": "point", "opacity": 0}, "encoding": {
          "x": {"field": "a", "type": "quantitative", "axis": {"orient": "top", "title": "N = 100", "titleAnchor": "end", "titleY": -12, "titleBaseline": "alphabetic", "titleColor": "#d2143a", "labels": false, "ticks": false, "grid": false, "domain": false}},
          "y": {"field": "b", "type": "quantitative", "axis": null}}}
      ],
      "resolve": {"axis": {"x": "independent", "y": "independent"}}
    },
    {
      "width": 285, "height": 188, "data": {"name": "p7"},
      "layer": [
        {"mark": {"type": "point"}, "encoding": {
          "x": {"field": "a", "type": "quantitative", "scale": {"domain": [34.3, 145.5], "nice": false, "zero": false}, "axis": {"values": [40, 60, 80, 100, 120, 140], "title": "VARIABLE A", "titlePadding": 9}},
          "y": {"field": "b", "type": "quantitative", "scale": {"domain": [66.4, 144.3], "nice": false, "zero": false}, "axis": {"values": [80, 100, 120, 140], "title": "VARIABLE B", "titlePadding": 14}}}},
        {"mark": {"type": "point", "opacity": 0}, "encoding": {
          "x": {"field": "a", "type": "quantitative", "axis": {"orient": "top", "title": "CORRELATION = 0.7", "titleX": -21, "titleAlign": "left", "titleY": -12, "titleBaseline": "alphabetic", "titleColor": "#d2143a", "labels": false, "ticks": false, "grid": false, "domain": false}},
          "y": {"field": "b", "type": "quantitative", "axis": null}}},
        {"mark": {"type": "point", "opacity": 0}, "encoding": {
          "x": {"field": "a", "type": "quantitative", "axis": {"orient": "top", "title": "N = 100", "titleAnchor": "end", "titleY": -12, "titleBaseline": "alphabetic", "titleColor": "#d2143a", "labels": false, "ticks": false, "grid": false, "domain": false}},
          "y": {"field": "b", "type": "quantitative", "axis": null}}}
      ],
      "resolve": {"axis": {"x": "independent", "y": "independent"}}
    },
    {
      "width": 285, "height": 188, "data": {"name": "p8"},
      "layer": [
        {"mark": {"type": "point"}, "encoding": {
          "x": {"field": "a", "type": "quantitative", "scale": {"domain": [55.4, 144.7], "nice": false, "zero": false}, "axis": {"values": [60, 80, 100, 120, 140], "title": "VARIABLE A", "titlePadding": 9}},
          "y": {"field": "b", "type": "quantitative", "scale": {"domain": [56.2, 144.9], "nice": false, "zero": false}, "axis": {"values": [60, 80, 100, 120, 140], "title": null}}}},
        {"mark": {"type": "point", "opacity": 0}, "encoding": {
          "x": {"field": "a", "type": "quantitative", "axis": {"orient": "top", "title": "CORRELATION = -0.8", "titleX": -21, "titleAlign": "left", "titleY": -12, "titleBaseline": "alphabetic", "titleColor": "#d2143a", "labels": false, "ticks": false, "grid": false, "domain": false}},
          "y": {"field": "b", "type": "quantitative", "axis": null}}},
        {"mark": {"type": "point", "opacity": 0}, "encoding": {
          "x": {"field": "a", "type": "quantitative", "axis": {"orient": "top", "title": "N = 100", "titleAnchor": "end", "titleY": -12, "titleBaseline": "alphabetic", "titleColor": "#d2143a", "labels": false, "ticks": false, "grid": false, "domain": false}},
          "y": {"field": "b", "type": "quantitative", "axis": null}}}
      ],
      "resolve": {"axis": {"x": "independent", "y": "independent"}}
    },
    {
      "width": 285, "height": 188, "data": {"name": "p9"},
      "layer": [
        {"mark": {"type": "point"}, "encoding": {
          "x": {"field": "a", "type": "quantitative", "scale": {"domain": [55.4, 144.6], "nice": false, "zero": false}, "axis": {"values": [60, 80, 100, 120, 140], "title": "VARIABLE A", "titlePadding": 9}},
          "y": {"field": "b", "type": "quantitative", "scale": {"domain": [56.2, 144.9], "nice": false, "zero": false}, "axis": {"values": [60, 80, 100, 120, 140], "title": null}}}},
        {"mark": {"type": "point", "opacity": 0}, "encoding": {
          "x": {"field": "a", "type": "quantitative", "axis": {"orient": "top", "title": "CORRELATION = 0.9", "titleX": -21, "titleAlign": "left", "titleY": -12, "titleBaseline": "alphabetic", "titleColor": "#d2143a", "labels": false, "ticks": false, "grid": false, "domain": false}},
          "y": {"field": "b", "type": "quantitative", "axis": null}}},
        {"mark": {"type": "point", "opacity": 0}, "encoding": {
          "x": {"field": "a", "type": "quantitative", "axis": {"orient": "top", "title": "N = 100", "titleAnchor": "end", "titleY": -12, "titleBaseline": "alphabetic", "titleColor": "#d2143a", "labels": false, "ticks": false, "grid": false, "domain": false}},
          "y": {"field": "b", "type": "quantitative", "axis": null}}}
      ],
      "resolve": {"axis": {"x": "independent", "y": "independent"}}
    }
  ]
}
